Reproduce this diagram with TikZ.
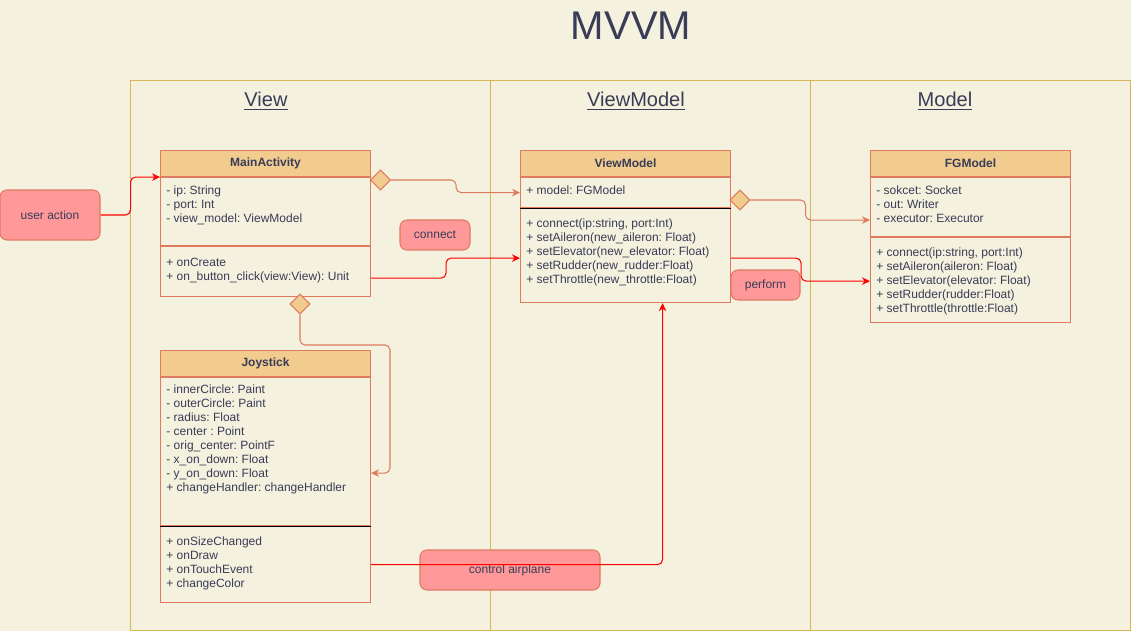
\documentclass[tikz,border=0pt]{standalone}
\usepackage{fontspec}
\setmainfont{Liberation Sans}
\usetikzlibrary{calc,arrows.meta,shapes.geometric}
\definecolor{paper}{HTML}{F4F1DE}
\definecolor{ink}{HTML}{393C56}
\definecolor{umlline}{HTML}{E07A5F}
\definecolor{umlhead}{HTML}{F2CC8F}
\definecolor{lanec}{HTML}{D6B656}
\definecolor{notec}{HTML}{FF9999}
\def\px{0.02cm}
\frenchspacing
\newcommand\umlfont{\fontsize{6.83}{7.97}\selectfont}
\tikzset{
  lane/.style={draw=lanec, line width=0.5pt},
  clshead/.style={draw=umlline, fill=umlhead, line width=0.6pt, anchor=north west, inner sep=0pt,
    minimum width=#1*\px, minimum height=26*\px, font=\umlfont\bfseries, text=ink},
  clshead/.default=210,
  clsbox/.style={draw=umlline, line width=0.6pt, anchor=north west, inner sep=0pt, minimum width=#1*\px},
  clsbox/.default=210,
  clstext/.style={anchor=north west, inner sep=0pt, align=left, font=\umlfont, text=ink},
  note/.style={draw=umlline, fill=notec, line width=0.6pt, rounded corners=0.14cm, font=\umlfont, text=ink},
  diam/.style={diamond, draw=umlline, fill=umlhead, line width=0.6pt, inner sep=0pt,
    minimum width=20*\px, minimum height=20*\px},
  assoc/.style={draw=umlline, line width=0.6pt, rounded corners=0.1cm,
    -{Stealth[length=1.6mm,width=1.5mm,inset=0.5mm]}},
  call/.style={draw=red, line width=0.6pt, rounded corners=0.1cm,
    -{Stealth[length=1.6mm,width=1.5mm,inset=0.5mm]}}
}

\begin{document}
\begin{tikzpicture}[x=0.02cm,y=-0.02cm]
			%%%%% START %%%%%

			\fill[paper] (0,0) rectangle (1131,631);
			\useasboundingbox (0,0) rectangle (1131,631);

			\node[font=\fontsize{22.8}{26}\selectfont, text=ink] (title) at (631,26) {MVVM};

			% lanes
			\draw[lane] (130,80) rectangle (1130,630);
			\draw[lane] (490,80) -- (490,630);
			\draw[lane] (810,80) -- (810,630);
			\node[font=\fontsize{11.4}{13}\selectfont, text=ink] (hview) at (266,101) {\underline{View}};
			\node[font=\fontsize{11.4}{13}\selectfont, text=ink] (hvm) at (636,101) {\underline{ViewModel}};
			\node[font=\fontsize{11.4}{13}\selectfont, text=ink] (hmodel) at (945,101) {\underline{Model}};

			% MainActivity
			\node[clshead] (mainH) at (160,150) {\raisebox{-1pt}{MainActivity}};
			\node[clsbox, minimum height=68*\px] (mainA) at (mainH.south west) {};
			\node[clsbox, minimum height=50*\px] (mainM) at (mainA.south west) {};
			\node[clstext] (mainAt) at (166,185.5) {- ip: String\\- port: Int\\- view\_model: ViewModel};
			\node[clstext] (mainMt) at (166,257.5) {+ onCreate\\+ on\_button\_click(view:View): Unit};

			% ViewModel
			\node[clshead] (vmH) at (520,150) {\raisebox{-1pt}{ViewModel}};
			\node[clsbox, minimum height=30*\px] (vmA) at (vmH.south west) {};
			\node[clsbox, minimum height=94*\px] (vmM) at (vmA.south west) {};
			\draw[black, line width=0.6pt] (vmM.north west) -- (vmM.north east);
			\node[clstext] (vmAt) at (526,185.5) {+ model: FGModel};
			\node[clstext] (vmMt) at (526,218.5) {+ connect(ip:string, port:Int)\\+ setAileron(new\_aileron: Float)\\+ setElevator(new\_elevator: Float)\\+ setRudder(new\_rudder:Float)\\+ setThrottle(new\_throttle:Float)};

			% FGModel
			\node[clshead=200] (fgH) at (870,150) {\raisebox{-1pt}{FGModel}};
			\node[clsbox=200, minimum height=59*\px] (fgA) at (fgH.south west) {};
			\node[clsbox=200, minimum height=85*\px] (fgM) at (fgA.south west) {};
			\node[clstext] (fgAt) at (876,185.5) {- sokcet: Socket\\- out: Writer\\- executor: Executor};
			\node[clstext] (fgMt) at (876,247.5) {+ connect(ip:string, port:Int)\\+ setAileron(aileron: Float)\\+ setElevator(elevator: Float)\\+ setRudder(rudder:Float)\\+ setThrottle(throttle:Float)};

			% Joystick
			\node[clshead] (jH) at (160,350) {\raisebox{-1pt}{Joystick}};
			\node[clsbox, minimum height=148*\px] (jA) at (jH.south west) {};
			\node[clsbox, minimum height=76*\px] (jM) at (jA.south west) {};
			\draw[black, line width=0.6pt] (jM.north west) -- (jM.north east);
			\node[clstext] (jAt) at (166,384.5) {- innerCircle: Paint\\- outerCircle: Paint\\- radius: Float\\- center : Point\\- orig\_center: PointF\\- x\_on\_down: Float\\- y\_on\_down: Float\\+ changeHandler: changeHandler};
			\node[clstext] (jMt) at (166,536.5) {+ onSizeChanged\\+ onDraw\\+ onTouchEvent\\+ changeColor};

			% notes
			\node[note, minimum width=100*\px, minimum height=50*\px] (ua) at (50,215) {user action};
			\node[note, minimum width=70*\px, minimum height=30*\px] (conn) at (435,235) {connect};
			\node[note, minimum width=69*\px, minimum height=30*\px] (perf) at (765.5,285) {perform};
			\node[note, minimum width=180*\px, minimum height=40*\px] (ctrl) at (510,570) {\raisebox{-2pt}{control airplane}};

			% diamonds
			\node[diam] (mdia) at (380.5,180) {};
			\node[diam] (jdia) at (300,304) {};
			\node[diam] (vdia) at (740,200) {};

			% connectors
			\draw[call] (ua.east) -- ++(30,0) |- (mainA.north west);
			\draw[assoc] (mdia.east) -- ++(65,0) |- (vmA.west);
			\draw[call] ($(mainM.north east)+(0,32)$) -- ++(75,0) |- ($(vmM.north west)+(0,50)$);
			\draw[assoc] (vdia.east) -- ++(55,0) |- ($(fgA.north west)+(0,43)$);
			\draw[call] ($(vmM.north east)+(0,50)$) -- ++(70,0) |- ($(fgM.north west)+(0,44)$);
			\coordinate (jbend) at (390,345);
			\draw[assoc] (jdia.south) |- (jbend) |- ($(jA.north east)+(0,96)$);
			\draw[call] (jM.east) -| ($(vmM.south)+(37,0)$);

			%%%%% END %%%%%
\end{tikzpicture}
\end{document}
